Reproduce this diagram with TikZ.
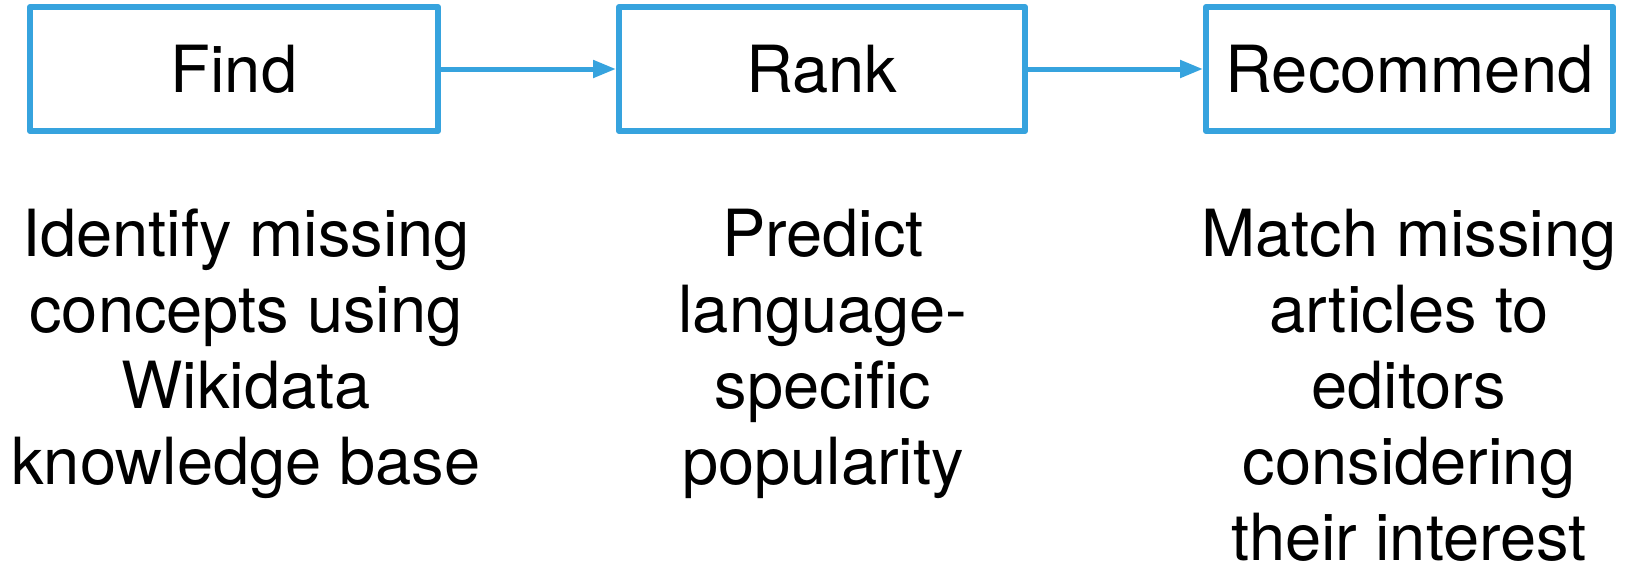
\documentclass[tikz,border=0pt]{standalone}
\usepackage{fontspec}
\setmainfont{TeX Gyre Heros}
\usetikzlibrary{arrows.meta}
\definecolor{stepblue}{RGB}{54,163,222}
\tikzset{
  stepbox/.style={draw=stepblue, line width=6pt, line join=round,
    inner sep=0pt, minimum height=124pt},
  flow/.style={draw=stepblue, line width=5pt,
    -{Triangle[length=23pt,width=17pt]}},
  note/.style={anchor=base, inner sep=0pt}
}
\newcommand{\bigtext}{\fontsize{65}{76}\selectfont}
\newcommand{\lines}[1]{\begin{tabular}[t]{@{}c@{}}#1\end{tabular}}
\begin{document}
\begin{tikzpicture}[x=1pt, y=-1pt, font=\bigtext]
  \useasboundingbox (0,0) rectangle (1629,565);

  % the three stages
  \node[stepbox, minimum width=408pt] (find) at (234,69) {Find};
  \node[stepbox, minimum width=406pt] (rank) at (822,69) {Rank};
  \node[stepbox, minimum width=407pt] (recommend) at (1409.5,69) {Recommend};

  % flow between stages
  \draw[flow] (find.east) -- (rank.west);
  \draw[flow] (rank.east) -- (recommend.west);

  % descriptions under each stage
  \node[note] (findtext) at (246,256.7)
    {\lines{Identify missing\\ concepts using\\ Wikidata\\ knowledge base}};
  \node[note] (ranktext) at (823,256.7)
    {\lines{Predict\\ language-\\ specific\\ popularity}};
  \node[note] (rectext) at (1409,256.7)
    {\lines{Match missing\\ articles to\\ editors\\ considering\\ their interest}};
\end{tikzpicture}
\end{document}
